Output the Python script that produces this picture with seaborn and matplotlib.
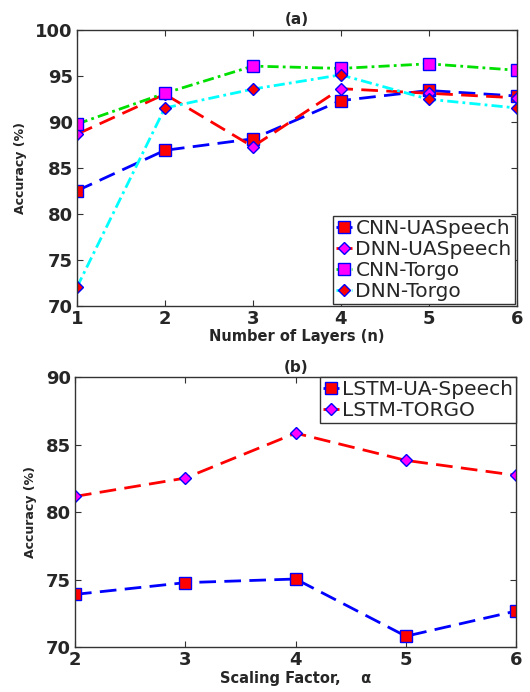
import seaborn as sns
import matplotlib.pyplot as plt

# panel (a): accuracy vs number of layers
layers = [1, 2, 3, 4, 5, 6]
cnn_uaspeech = [82.5, 86.9, 88.15, 92.3, 93.4, 92.8]
dnn_uaspeech = [88.65, 93.0, 87.3, 93.6, 93.1, 92.6]
cnn_torgo = [89.75, 93.1, 96.05, 95.8, 96.3, 95.6]
dnn_torgo = [72.0, 91.5, 93.55, 95.1, 92.45, 91.5]

# panel (b): accuracy vs scaling factor
alpha = [2, 3, 4, 5, 6]
lstm_uaspeech = [73.9, 74.77, 75.04, 70.8, 72.67]
lstm_torgo = [81.16, 82.52, 85.85, 83.83, 82.72]

sns.set_style("ticks")
plt.rcParams['font.family'] = ['DejaVu Sans']

fig = plt.figure(figsize=(5.3, 6.92), dpi=100)
ax1 = fig.add_axes([0.145, 0.558, 0.83, 0.399])
ax2 = fig.add_axes([0.1415, 0.065, 0.8325, 0.39])

sq = dict(marker='s', markersize=8, markerfacecolor='red', markeredgecolor='blue', markeredgewidth=1)
dm = dict(marker='D', markersize=6.5, markerfacecolor='magenta', markeredgecolor='blue', markeredgewidth=1)
leg_kw = dict(fontsize=14.5, frameon=True, fancybox=False, edgecolor='0.2', borderaxespad=0.1,
              handlelength=0.8, handletextpad=0.15, labelspacing=0.1, borderpad=0.15, framealpha=1)

# (a)
sns.lineplot(x=layers, y=cnn_uaspeech, ax=ax1, color='blue', lw=2, dashes=(6, 3), label='CNN-UASpeech', **sq)
sns.lineplot(x=layers, y=dnn_uaspeech, ax=ax1, color='red', lw=2, dashes=(6, 3), label='DNN-UASpeech', **dm)
sns.lineplot(x=layers, y=cnn_torgo, ax=ax1, color='#00e000', lw=2, dashes=(4, 1.5, 1, 1.5), label='CNN-Torgo',
             **dict(sq, markerfacecolor='magenta'))
sns.lineplot(x=layers, y=dnn_torgo, ax=ax1, color='cyan', lw=2, dashes=(4, 1.5, 1, 1.5), label='DNN-Torgo',
             **dict(dm, markerfacecolor='red'))
ax1.set_xlim(1, 6)
ax1.set_ylim(70, 100)
ax1.set_xticks(layers)
ax1.set_yticks([70, 75, 80, 85, 90, 95, 100])
ax1.set_title('(a)', fontsize=11, fontweight='bold', pad=4)
ax1.set_xlabel('Number of Layers (n)', fontsize=10.5, fontweight='bold', labelpad=1)
ax1.set_ylabel('Accuracy (%)', fontsize=9, fontweight='bold', labelpad=6)
ax1.legend(loc='lower right', **leg_kw)

# (b)
sns.lineplot(x=alpha, y=lstm_uaspeech, ax=ax2, color='blue', lw=2, dashes=(6, 3), label='LSTM-UA-Speech', **sq)
sns.lineplot(x=alpha, y=lstm_torgo, ax=ax2, color='red', lw=2, dashes=(6, 3), label='LSTM-TORGO', **dm)
ax2.set_xlim(2, 6)
ax2.set_ylim(70, 90)
ax2.set_xticks(alpha)
ax2.set_yticks([70, 75, 80, 85, 90])
ax2.set_title('(b)', fontsize=11, fontweight='bold', pad=4)
ax2.set_xlabel('Scaling Factor,    α', fontsize=10.5, fontweight='bold', labelpad=1)
ax2.set_ylabel('Accuracy (%)', fontsize=9, fontweight='bold', labelpad=6)
leg_b = dict(leg_kw, borderaxespad=0.0)
ax2.legend(loc='upper right', **leg_b)

for ax in (ax1, ax2):
    ax.tick_params(direction='in', top=True, right=True, labelsize=13, length=4, pad=3, color='0.2')
    for lab in ax.get_xticklabels() + ax.get_yticklabels():
        lab.set_fontweight('bold')
    for sp in ax.spines.values():
        sp.set_color('0.2')
        sp.set_linewidth(1)

fig.savefig('out.png', dpi=100)
